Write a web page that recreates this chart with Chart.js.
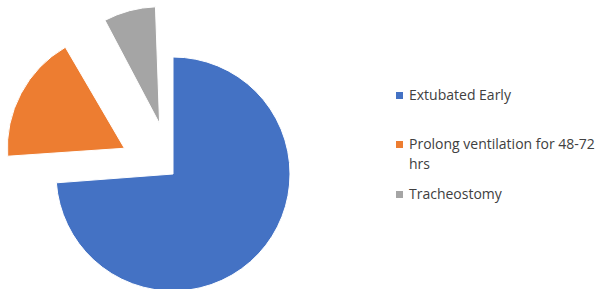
<!DOCTYPE html>
<html>
<head>
<meta charset="utf-8">
<script src="https://cdn.jsdelivr.net/npm/chart.js@4"></script>
<style>
  body { margin: 0; background: #fff; }
  #wrap { position: relative; width: 603px; height: 289px; overflow: hidden; }
  #pieBox { position: absolute; left: 0; top: 0; width: 346px; height: 289px; }
  #legend { position: absolute; left: 396px; top: 0; width: 207px; font-family: "Open Sans", sans-serif; font-size: 14px; color: #404040; }
  .item { position: absolute; left: 0; display: flex; align-items: flex-start; line-height: 20px; }
  .sw { width: 7px; height: 7px; margin-top: 7px; margin-right: 6px; flex: none; }
  .txt { width: 194px; }
</style>
</head>
<body>
<div id="wrap">
  <div id="pieBox"><canvas id="pieChart"></canvas></div>
  <div id="legend"></div>
</div>
<script>
const labels = ['Extubated Early', 'Prolong ventilation for 48-72 hrs', 'Tracheostomy'];
const values = [73.8, 17.9, 8.3];
const colors = ['#4472C4', '#ED7D31', '#A5A5A5'];
// chart.js v4 moves an arc by offset / 4
const explode = [0, 220, 208];
const legendTops = [85, 134, 184];

const legend = document.getElementById('legend');
labels.forEach((lab, i) => {
  const item = document.createElement('div');
  item.className = 'item';
  item.style.top = legendTops[i] + 'px';
  const sw = document.createElement('span');
  sw.className = 'sw';
  sw.style.background = colors[i];
  const txt = document.createElement('span');
  txt.className = 'txt';
  txt.textContent = lab;
  item.appendChild(sw);
  item.appendChild(txt);
  legend.appendChild(item);
});

// v4 also grows the radius of small exploded arcs; undo that so every slice keeps the same radius
const keepRadius = {
  id: 'keepRadius',
  afterDatasetUpdate(chart, args) {
    args.meta.data.forEach((arc, i) => {
      const o = (explode[i] || 0) / 4;
      const fix = 1 - Math.sin(Math.min(Math.PI, arc.circumference || 0));
      arc.outerRadius = Math.max(arc.outerRadius - o * fix, 0);
    });
  }
};

new Chart(document.getElementById('pieChart'), {
  type: 'pie',
  data: {
    labels: labels,
    datasets: [{
      data: values,
      backgroundColor: colors,
      borderColor: '#fff',
      borderWidth: 1,
      offset: explode,
      clip: false
    }]
  },
  options: {
    responsive: true,
    maintainAspectRatio: false,
    animation: false,
    radius: 117,
    cutout: '0%',
    layout: { padding: { top: 59 } },
    plugins: {
      legend: { display: false },
      tooltip: { enabled: false }
    }
  },
  plugins: [keepRadius]
});
</script>
</body>
</html>
